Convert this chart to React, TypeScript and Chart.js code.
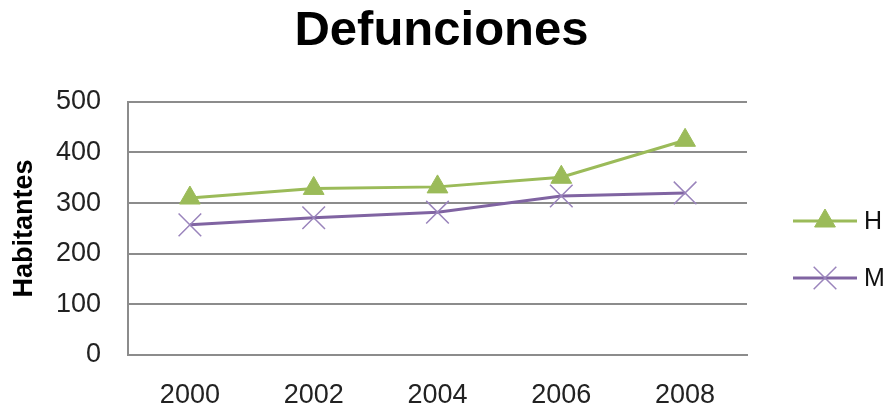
import React, { useEffect, useRef } from "react";
import { Chart, registerables } from "chart.js";
import { drawPoint } from "chart.js/helpers";

Chart.register(...registerables);

const years = ["2000", "2002", "2004", "2006", "2008"];
const hombres = [310, 329, 332, 351, 424];
const mujeres = [257, 271, 282, 314, 320];
const yTicks = [0, 100, 200, 300, 400, 500];

const GREEN = "#9BBB59";
const PURPLE = "#8064A2";
const FONT = "'Liberation Sans', Arial, sans-serif";

// Legend drawn at the right: a short line with the series marker, then its label.
const sideLegend = {
  id: "sideLegend",
  afterLayout(chart: any) {
    // centre the title across the whole canvas, not just the plot column
    const t = chart.titleBlock;
    if (t) {
      t.left = 0;
      t.right = chart.width - 10;
      t.width = t.right - t.left;
    }
  },
  afterDraw(chart: any) {
    const ctx = chart.ctx;
    const x0 = chart.chartArea.right + 46;
    const rows = [221, 278];
    chart.data.datasets.forEach((ds: any, i: number) => {
      const y = rows[i];
      ctx.save();
      ctx.strokeStyle = ds.borderColor;
      ctx.lineWidth = ds.borderWidth;
      ctx.beginPath();
      ctx.moveTo(x0, y);
      ctx.lineTo(x0 + 64, y);
      ctx.stroke();
      ctx.fillStyle = ds.pointBackgroundColor;
      ctx.strokeStyle = ds.pointBorderColor;
      ctx.lineWidth = ds.pointBorderWidth;
      drawPoint(ctx, { pointStyle: ds.pointStyle, radius: ds.pointRadius, borderWidth: ds.pointBorderWidth, rotation: 0 }, x0 + 32, y);
      ctx.fillStyle = "#111";
      ctx.font = `25px ${FONT}`;
      ctx.textBaseline = "middle";
      ctx.textAlign = "left";
      ctx.fillText(ds.label, x0 + 71, y + 1);
      ctx.restore();
    });
  },
};

export default function App() {
  const ref = useRef<HTMLCanvasElement>(null);

  useEffect(() => {
    if (!ref.current) return;
    const chart = new Chart(ref.current, {
      type: "line",
      data: {
        labels: years,
        datasets: [
          {
            label: "H",
            data: hombres,
            borderColor: GREEN,
            borderWidth: 3,
            pointStyle: "triangle",
            pointRadius: 12,
            pointBackgroundColor: GREEN,
            pointBorderColor: GREEN,
            pointBorderWidth: 1,
            tension: 0,
          },
          {
            label: "M",
            data: mujeres,
            borderColor: PURPLE,
            borderWidth: 3,
            pointStyle: "crossRot",
            pointRadius: 16,
            pointBackgroundColor: PURPLE,
            pointBorderColor: "#9A84BC",
            pointBorderWidth: 1.5,
            tension: 0,
          },
        ],
      },
      options: {
        animation: false,
        responsive: true,
        maintainAspectRatio: false,
        layout: { padding: { left: 0, right: 146, top: 0, bottom: 0 } },
        plugins: {
          legend: { display: false },
          tooltip: { enabled: false },
          title: {
            display: true,
            text: "Defunciones",
            color: "#000",
            font: { family: FONT, size: 49, weight: "bold", lineHeight: 1.2 },
            padding: { top: 2, bottom: 41 },
          },
        },
        scales: {
          x: {
            offset: true,
            grid: { display: false, drawTicks: false },
            border: { display: true, color: "#8c8c8c", width: 2 },
            ticks: { color: "#222", font: { family: FONT, size: 27 }, padding: 24 },
            afterFit: (s: any) => {
              s.height = 56;
            },
          },
          y: {
            min: 0,
            max: 500,
            afterBuildTicks: (s: any) => {
              s.ticks = yTicks.map((v) => ({ value: v }));
            },
            grid: { color: "#8c8c8c", lineWidth: 2, drawTicks: false },
            border: { display: true, color: "#8c8c8c", width: 2 },
            ticks: { color: "#222", font: { family: FONT, size: 27 }, padding: 27 },
            title: {
              display: true,
              text: "Habitantes",
              color: "#000",
              font: { family: FONT, size: 27, weight: "bold", lineHeight: 1.2 },
              padding: { top: 8, bottom: 0 },
            },
            afterFit: (s: any) => {
              s.width = 128;
            },
          },
        },
      },
      plugins: [sideLegend],
    });
    return () => chart.destroy();
  }, []);

  return (
    <div style={{ position: "fixed", left: 0, top: 0, width: 893, height: 411, background: "#fff" }}>
      <canvas ref={ref} />
    </div>
  );
}
